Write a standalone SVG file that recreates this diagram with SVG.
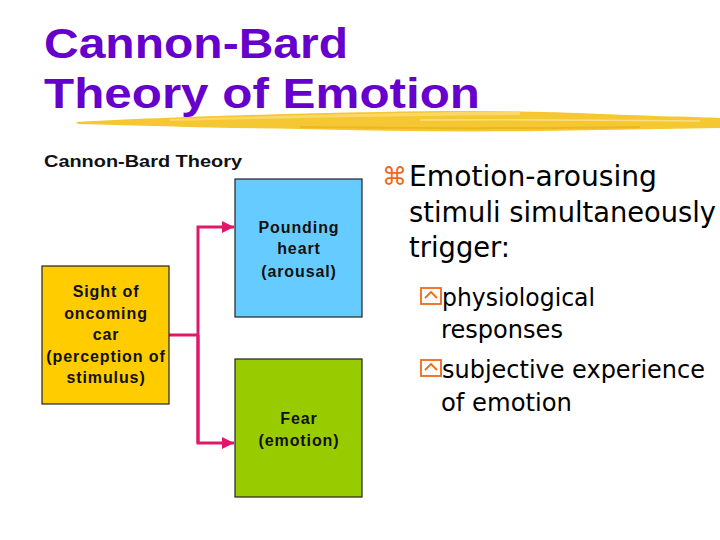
<svg xmlns="http://www.w3.org/2000/svg" width="720" height="540" viewBox="0 0 720 540">
<defs>
<style>
.title{font-family:"Liberation Sans",Arial,sans-serif;font-weight:bold;font-size:42px;fill:#6600CC}
.sub{font-family:"Liberation Sans",Arial,sans-serif;font-weight:bold;font-size:17px;fill:#111}
.box{stroke:#222;stroke-width:1.2}
.lbl{font-family:"Liberation Sans",Arial,sans-serif;font-weight:bold;font-size:16px;fill:#111;text-anchor:middle;letter-spacing:0.9px}
.conn{fill:none;stroke:#E3176A;stroke-width:3}
.main{font-family:"DejaVu Sans",Verdana,sans-serif;font-size:29px;fill:#000}
.small{font-family:"DejaVu Sans",Verdana,sans-serif;font-size:25px;fill:#000}
.bul{fill:none;stroke:#EE6A1A;stroke-width:1.8}
</style>
<marker id="ah" viewBox="0 0 10 10" refX="10" refY="5" markerWidth="4" markerHeight="4" orient="auto" markerUnits="strokeWidth">
<path d="M0,0 L10,5 L0,10 z" fill="#E3176A"/>
</marker>
</defs>
<rect width="720" height="540" fill="#fff"/>
<g id="brush">
<path d="M76,122 C150,118 260,114 380,112 C460,110 540,111 600,114 C650,116 700,117 720,118 L720,128 C660,129 600,130 540,131 C460,132 380,131 300,129 C220,128 150,126 78,124 Z" fill="#F5C733"/>
<path d="M170,119 C260,116 380,113 520,111 L520,115 C380,116 260,119 170,121 Z" fill="#FADC70" opacity="0.85"/>
<path d="M300,126 C400,127 500,128 640,126 L640,128 C500,130 400,129 300,128 Z" fill="#E9B318" opacity="0.8"/>
<path d="M420,120 C500,119 600,120 700,121" fill="none" stroke="#FBE39A" stroke-width="1.5" opacity="0.8"/>
</g>
<g id="title">
<text class="title" x="44" y="58" textLength="304" lengthAdjust="spacingAndGlyphs">Cannon-Bard</text>
<text class="title" x="44" y="108" textLength="436" lengthAdjust="spacingAndGlyphs">Theory of Emotion</text>
</g>
<text class="sub" x="44" y="167" textLength="198" lengthAdjust="spacingAndGlyphs">Cannon-Bard Theory</text>
<g id="connectors">
<path class="conn" d="M169,335 H198"/>
<path class="conn" d="M198,443 V227 H234" marker-end="url(#ah)"/>
<path class="conn" d="M198,335 V443 H234" marker-end="url(#ah)"/>
</g>
<g id="stimulus">
<rect class="box" x="42" y="266" width="127" height="138" fill="#FFCC00"/>
<text class="lbl" x="106" y="297">Sight of</text>
<text class="lbl" x="106" y="319">oncoming</text>
<text class="lbl" x="106" y="340">car</text>
<text class="lbl" x="106" y="362">(perception of</text>
<text class="lbl" x="106" y="383">stimulus)</text>
</g>
<g id="arousal">
<rect class="box" x="235" y="179" width="127" height="138" fill="#66CCFF"/>
<text class="lbl" x="299" y="233">Pounding</text>
<text class="lbl" x="299" y="254">heart</text>
<text class="lbl" x="299" y="277">(arousal)</text>
</g>
<g id="emotion">
<rect class="box" x="235" y="359" width="127" height="138" fill="#99CC00"/>
<text class="lbl" x="299" y="424">Fear</text>
<text class="lbl" x="299" y="446">(emotion)</text>
</g>
<g id="bullets">
<text x="382" y="185" font-family="DejaVu Sans,sans-serif" font-size="25" fill="#EE6A1A">⌘</text>
<text class="main" x="409" y="186" textLength="248" lengthAdjust="spacingAndGlyphs">Emotion-arousing</text>
<text class="main" x="409" y="222" textLength="307" lengthAdjust="spacingAndGlyphs">stimuli simultaneously</text>
<text class="main" x="409" y="257" textLength="101" lengthAdjust="spacingAndGlyphs">trigger:</text>
<rect class="bul" x="421" y="288" width="20" height="16"/>
<path class="bul" d="M425,298 L431,292 L437,298"/>
<text class="small" x="442" y="306" textLength="153" lengthAdjust="spacingAndGlyphs">physiological</text>
<text class="small" x="441" y="338" textLength="122" lengthAdjust="spacingAndGlyphs">responses</text>
<rect class="bul" x="421" y="360" width="20" height="16"/>
<path class="bul" d="M425,370 L431,364 L437,370"/>
<text class="small" x="442" y="378" textLength="263" lengthAdjust="spacingAndGlyphs">subjective experience</text>
<text class="small" x="441" y="411" textLength="131" lengthAdjust="spacingAndGlyphs">of emotion</text>
</g>
</svg>
